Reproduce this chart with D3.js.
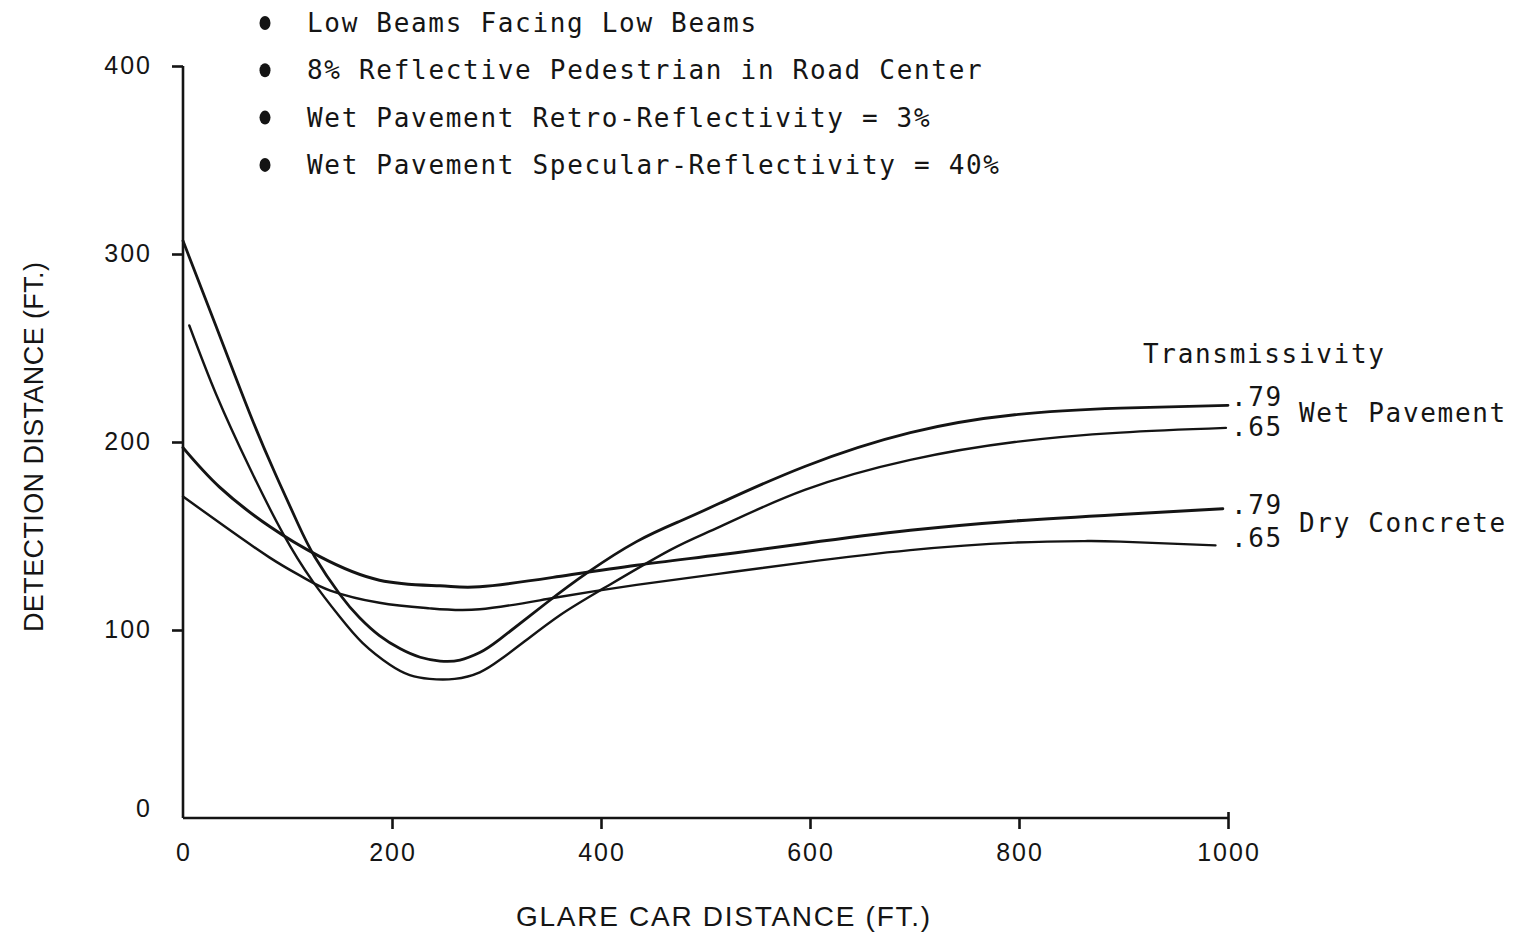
<!DOCTYPE html>
<html>
<head>
<meta charset="utf-8">
<script src="https://cdn.jsdelivr.net/npm/d3@7/dist/d3.min.js"></script>
<style>
  html, body { margin: 0; padding: 0; background: #fff; }
  svg { display: block; }
  .mono { font-family: "DejaVu Sans Mono", "Liberation Mono", monospace; fill: #151515; }
  .sans { font-family: "Liberation Sans", "DejaVu Sans", sans-serif; fill: #151515; }
</style>
</head>
<body>
<svg id="chart" width="1514" height="933"></svg>
<script>
// Detection distance vs. glare car distance, four transmissivity cases
const glareDistW79 = [0, 32, 64, 88, 110, 126, 150, 169, 188, 208, 227, 246, 265, 284, 303, 348, 387, 434, 476, 514, 595, 696, 796, 897, 1000];
const detectW79   = [307, 261, 215, 183.5, 156.5, 139, 119, 106.5, 97, 90, 85.5, 83.5, 84, 88, 95, 114.5, 130.5, 147, 158, 167.5, 187, 205, 214.5, 218, 219.5];

const glareDistW65 = [6, 32, 64, 96, 124, 150, 172, 198, 217, 236, 260, 284, 303, 327, 361, 402, 466, 514, 595, 696, 796, 897, 998];
const detectW65   = [262, 225, 186, 151, 126, 107, 93, 81.5, 76, 74, 74, 77.5, 84, 94, 108, 122, 142.5, 155, 174.5, 190.5, 200, 205, 207.5];

const glareDistD79 = [0, 35, 83, 131, 188, 246, 284, 354, 434, 514, 595, 696, 796, 897, 995];
const detectD79   = [197, 176, 155, 139, 126.5, 123.5, 123, 128, 134.5, 140, 146, 153, 158, 161.5, 164.5];

const glareDistD65 = [0, 35, 83, 115, 141, 188, 236, 284, 354, 434, 514, 595, 696, 796, 863, 897, 988];
const detectD65   = [171, 157, 138.5, 128, 121, 114.5, 111.5, 111, 117, 124, 130, 136, 142.5, 146.5, 147.3, 147, 145];

const xTicks = [0, 200, 400, 600, 800, 1000];
const yTicks = [0, 100, 200, 300, 400];

const conditions = [
  "Low Beams Facing Low Beams",
  "8% Reflective Pedestrian in Road Center",
  "Wet Pavement Retro-Reflectivity = 3%",
  "Wet Pavement Specular-Reflectivity = 40%"
];

const curveLabels = [".79", ".65", ".79", ".65"];
const groupLabels = ["Wet Pavement", "Dry Concrete"];

const series = [
  { xs: glareDistW79, ys: detectW79, w: 2.8 },
  { xs: glareDistW65, ys: detectW65, w: 2.4 },
  { xs: glareDistD79, ys: detectD79, w: 3.0 },
  { xs: glareDistD65, ys: detectD65, w: 2.4 }
];

const svg = d3.select("#chart");
const x = d3.scaleLinear().domain([0, 1000]).range([183, 1228]);
const y = d3.scaleLinear().domain([0, 400]).range([818, 66]);

const ink = "#141414";

// axes
const xAxis = svg.append("g").attr("transform", `translate(0,${y(0)})`)
  .call(d3.axisBottom(x).tickValues(xTicks.filter(d => d > 0)).tickSize(11).tickFormat(""));
const yAxis = svg.append("g").attr("transform", `translate(${x(0)},0)`)
  .call(d3.axisLeft(y).tickValues(yTicks.filter(d => d > 0)).tickSize(11).tickFormat(""));
[xAxis, yAxis].forEach(g => {
  g.select(".domain").attr("stroke", ink).attr("stroke-width", 2.6);
  g.selectAll(".tick line").attr("stroke", ink).attr("stroke-width", 2.6);
});
yAxis.select(".domain").attr("d", `M0,${y(400)}V${y(0)}`);
xAxis.select(".domain").attr("d", `M${x(0)},0H${x(1000)}`);
// end tick at 1000 also rises slightly above the axis
xAxis.selectAll(".tick").filter(d => d === 1000).select("line").attr("y1", -6);

// tick labels
svg.append("g").selectAll("text").data(xTicks).join("text")
  .attr("class", "sans")
  .attr("x", d => x(d) + 1)
  .attr("y", 861)
  .attr("text-anchor", "middle")
  .attr("font-size", 25)
  .attr("letter-spacing", 2)
  .text(d => d);

svg.append("g").selectAll("text").data(yTicks).join("text")
  .attr("class", "sans")
  .attr("x", 152)
  .attr("y", d => y(d) + 8 - (d === 0 ? 9 : 0))
  .attr("text-anchor", "end")
  .attr("font-size", 25)
  .attr("letter-spacing", 2)
  .text(d => d);

// axis titles
svg.append("text").attr("class", "sans")
  .attr("x", 516).attr("y", 926)
  .attr("font-size", 28)
  .attr("textLength", 414).attr("lengthAdjust", "spacing")
  .text("GLARE CAR DISTANCE (FT.)");

svg.append("text").attr("class", "sans")
  .attr("transform", "translate(43,632) rotate(-90)")
  .attr("font-size", 27)
  .attr("textLength", 370).attr("lengthAdjust", "spacing")
  .text("DETECTION DISTANCE (FT.)");

// curves
const line = d3.line()
  .x(d => x(d[0]))
  .y(d => y(d[1]))
  .curve(d3.curveNatural);

svg.append("g").selectAll("path").data(series).join("path")
  .attr("d", s => line(s.xs.map((v, i) => [v, s.ys[i]])))
  .attr("fill", "none")
  .attr("stroke", ink)
  .attr("stroke-width", s => s.w)
  .attr("stroke-linecap", "round");

// condition list
const charW = 17.35;
const legend = svg.append("g");
conditions.forEach((t, i) => {
  const cy = 22 + i * 47.3;
  legend.append("ellipse").attr("cx", 265).attr("cy", cy + 1).attr("rx", 5.5).attr("ry", 7).attr("fill", ink);
  legend.append("text").attr("class", "mono")
    .attr("x", 307).attr("y", cy + 10)
    .attr("font-size", 26)
    .attr("textLength", t.length * charW - 2).attr("lengthAdjust", "spacing")
    .text(t);
});

// end-of-curve labels
const endLabels = svg.append("g");
endLabels.append("text").attr("class", "mono")
  .attr("x", 1143).attr("y", 363).attr("font-size", 26)
  .attr("textLength", 14 * charW - 2).attr("lengthAdjust", "spacing")
  .text("Transmissivity");

const lastY = series.map(s => s.ys[s.ys.length - 1]);
const labelOffsets = [1, 8, 5, 2];
curveLabels.forEach((t, i) => {
  endLabels.append("text").attr("class", "mono")
    .attr("x", 1231).attr("y", y(lastY[i]) + labelOffsets[i])
    .attr("font-size", 26)
    .attr("textLength", 3 * charW - 2).attr("lengthAdjust", "spacing")
    .text(t);
});
groupLabels.forEach((t, i) => {
  const yy = (y(lastY[i * 2]) + y(lastY[i * 2 + 1])) / 2;
  endLabels.append("text").attr("class", "mono")
    .attr("x", 1299).attr("y", yy + 5)
    .attr("font-size", 26)
    .attr("textLength", t.length * charW - 2).attr("lengthAdjust", "spacing")
    .text(t);
});
</script>
</body>
</html>
